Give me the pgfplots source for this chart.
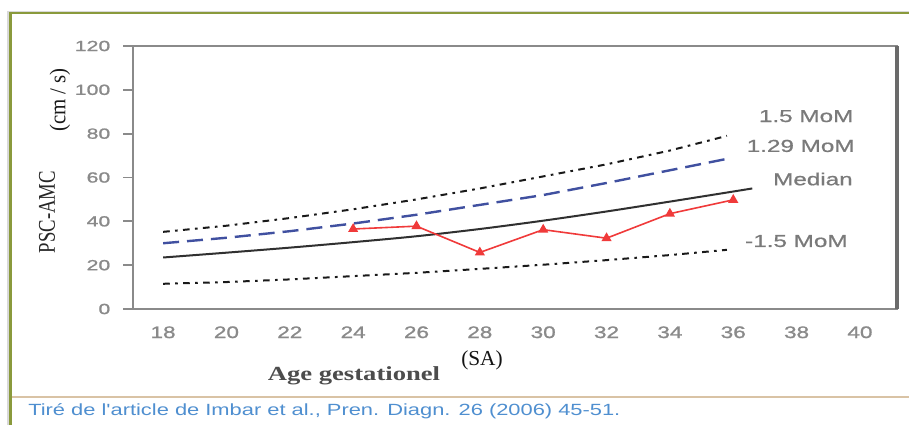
\documentclass[border=0pt]{standalone}
\usepackage{pgfplots}
\pgfplotsset{compat=1.18}
\usepackage{fontspec}
\setmainfont{Liberation Serif}
\newfontfamily\xtfont[FakeStretch=1.35,FakeBold=1.2]{Liberation Sans}
\newfontfamily\ytfont[FakeStretch=1.45,FakeBold=1.2]{Liberation Sans}
\newfontfamily\lblfont[FakeStretch=1.4,FakeBold=0.8]{Liberation Sans}
\newfontfamily\capfont[FakeStretch=1.35]{Liberation Sans}
\newfontfamily\agefont[FakeStretch=1.33]{Liberation Serif}
\newfontfamily\psfont[FakeStretch=0.78]{Liberation Serif}
\newfontfamily\cmfont[FakeStretch=0.92]{Liberation Serif}
\definecolor{axgray}{HTML}{8A8A8A}
\definecolor{axdark}{HTML}{6A6A6A}
\definecolor{tickgray}{HTML}{8A8A8A}
\definecolor{lblgray}{HTML}{7A7A7A}
\definecolor{olive}{HTML}{8A9A3C}
\definecolor{tan}{HTML}{D9C3A5}
\definecolor{capblue}{HTML}{4F8FD0}
\definecolor{dashblue}{HTML}{4050A0}
\definecolor{redline}{HTML}{F03A3A}
\definecolor{medline}{HTML}{303030}
\begin{document}
\begin{tikzpicture}
\useasboundingbox (0,0) rectangle (681.75pt,318.75pt);
\fill[white] (0,0) rectangle (681.75pt,318.75pt);
% frame
\draw[black!15, line width=1.5pt] (6pt,0) -- (6pt,310pt) -- (681.75pt,310pt);
\draw[olive, line width=1.9pt] (7.9pt,0) -- (7.9pt,309pt) -- (681.75pt,309pt);
\draw[tan, line width=1.2pt] (8.9pt,21pt) -- (681.75pt,21pt);
\node[anchor=west, inner sep=0pt, text=capblue, font={\capfont\fontsize{12.15pt}{14pt}\selectfont}] at (21pt,10.5pt) {Tiré de l'article de Imbar et al., Pren. Diagn. 26 (2006) 45-51.};
\begin{axis}[
  at={(99.75pt,87pt)}, anchor=south west,
  scale only axis, width=573pt, height=197.25pt,
  xmin=17.05, xmax=41.17, ymin=0, ymax=120,
  xtick={18,20,...,40}, ytick={0,20,...,120},
  axis line style={draw=axgray, line width=1.3pt},
  tick style={draw=axgray, line width=1.3pt},
  tick align=outside, major tick length=7.5pt,
  xtick pos=bottom, ytick pos=left,
  x tick style={draw=none},
  /pgf/number format/assume math mode=true,
  xticklabel style={font={\xtfont\fontsize{12.5pt}{14pt}\selectfont}, text=tickgray, yshift=-2pt},
  yticklabel style={font={\ytfont\fontsize{11pt}{13pt}\selectfont}, text=tickgray, xshift=-6pt},
  clip=false,
]
\addplot[medline, line width=1.5pt, smooth] coordinates {
(18,23.5) (20,25.7) (22,28) (24,30.5) (26,33.2) (28,36.5) (30,40.3) (32,44.5) (34,49) (36,53.6) (36.6,55)};
\addplot[dashblue, line width=1.8pt, dash pattern=on 12pt off 6pt] coordinates {
(18,30) (20,32.5) (22,35.5) (24,39) (26,43) (28,47.5) (30,52) (32,57.5) (34,63.3) (35.8,68.5)};
\addplot[black!90, line width=1.5pt, dash pattern=on 5pt off 4pt on 2pt off 4pt] coordinates {
(18,35.2) (20,38) (22,41.5) (24,45.5) (26,50) (28,55) (30,60.5) (32,66) (34,72.3) (35.8,79)};
\addplot[black!90, line width=1.5pt, dash pattern=on 5pt off 4pt on 2pt off 4pt] coordinates {
(18,11.5) (20,12.3) (22,13.5) (24,15) (26,16.5) (28,18.3) (30,20.2) (32,22.3) (34,24.6) (35.8,27)};
\addplot[redline, line width=1.2pt, mark=triangle*, mark size=3.2pt, mark options={fill=redline, draw=redline}] coordinates {
(24,36.5) (26,37.8) (28,25.8) (30,36.2) (32,32.3) (34,43.5) (36,49.8)};
\draw[axdark, line width=2.6pt] (rel axis cs:1,0) -- (rel axis cs:1,1);
\begin{scope}[every node/.style={anchor=east, inner sep=0pt, text=lblgray, font={\lblfont\fontsize{13pt}{15pt}\selectfont}}]
\node at (axis cs:39.8,88) {1.5 MoM};
\node at (axis cs:39.84,74.4) {1.29 MoM};
\node at (axis cs:39.78,59.3) {Median};
\node at (axis cs:39.62,31) {-1.5 MoM};
\end{scope}
\end{axis}
\node[rotate=90, inner sep=0pt, text=black!85, font={\psfont\fontsize{18pt}{20pt}\selectfont}] at (35.25pt,159.75pt) {PSC-AMC};
\node[rotate=90, inner sep=0pt, text=black!90, font={\cmfont\fontsize{17pt}{19pt}\selectfont}] at (45pt,243.75pt) {(cm / s)};
\node[inner sep=0pt, text=black!70, font={\agefont\bfseries\fontsize{15pt}{17pt}\selectfont}] at (265.5pt,37pt) {Age gestationel};
\node[inner sep=0pt, text=black!92, font={\fontsize{16pt}{18pt}\selectfont}] at (361.5pt,48.75pt) {(SA)};
\end{tikzpicture}
\end{document}
